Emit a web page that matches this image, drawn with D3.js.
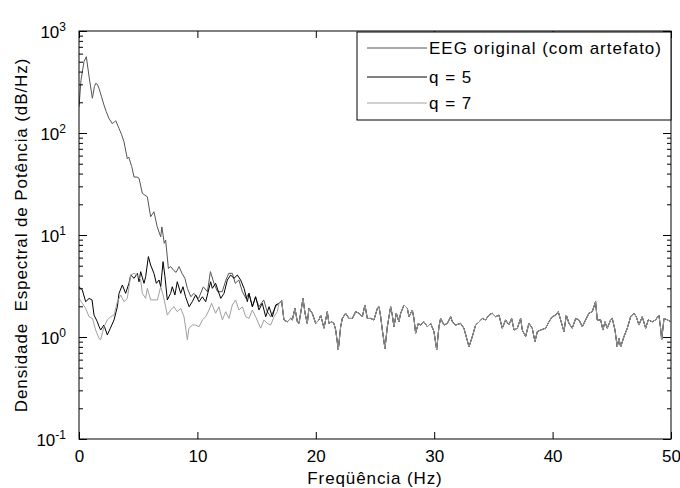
<!DOCTYPE html>
<html>
<head>
<meta charset="utf-8">
<script src="https://cdn.jsdelivr.net/npm/d3@7"></script>
<style>
  body { margin: 0; background: #fff; }
  svg { display: block; }
  text { font-family: "Liberation Sans", Arial, sans-serif; fill: #000; }
</style>
</head>
<body>
<div id="chart"></div>
<script>
// original EEG (with artefact), low-frequency part
let origF = [0, 0.17, 0.42, 0.62, 0.85, 1.13, 1.3, 1.41, 1.55, 1.69,
    1.9, 2.11, 2.3, 2.53, 2.8, 2.96, 3.1, 3.38, 3.6, 3.8,
    4.08, 4.2, 4.45, 4.65, 4.9, 5.07, 5.35, 5.77, 6.05, 6.33,
    6.6, 6.9, 7.0, 7.2, 7.32, 7.55, 7.75, 8.0, 8.2, 8.45,
    8.7, 8.95, 9.15, 9.45, 9.7, 10.1, 10.5, 10.85, 11.1, 11.4,
    11.7, 12.1, 12.4, 12.65, 12.95, 13.2, 13.5, 13.8, 14.1, 14.35,
    14.65, 14.9, 15.2, 15.6, 15.9, 16.2, 16.6];
let origV = [180, 330, 500, 560, 356, 219, 285, 307, 300, 274,
    227, 188, 162, 139, 124, 127, 132, 111, 96, 82,
    56, 58, 47, 37, 37, 36, 25.6, 23.7, 15.1, 16.9,
    12.1, 9.6, 12, 8.3, 8.9, 4.7, 4.9, 4.5, 4.3, 4.9,
    4.2, 3.76, 3.0, 2.48, 2.68, 2.39, 3.1, 2.78, 4.37, 3.36,
    2.78, 2.78, 3.6, 4.21, 4.21, 3.36, 3.62, 2.78, 2.39, 2.68,
    1.98, 2.48, 1.98, 2.31, 1.77, 1.58, 1.98];

// q = 5
let q5F = [0, 0.28, 0.56, 0.85, 1.1, 1.27, 1.55, 1.7, 1.83, 2.1,
    2.39, 2.65, 2.96, 3.24, 3.38, 3.66, 3.94, 4.22, 4.37, 4.65,
    4.93, 5.07, 5.21, 5.49, 5.63, 5.86, 6.05, 6.33, 6.53, 6.76,
    6.9, 7.1, 7.26, 7.46, 7.74, 7.88, 8.1, 8.3, 8.59, 8.78,
    9.0, 9.3, 9.57, 9.85, 10.14, 10.42, 10.7, 11.12, 11.26, 11.54,
    11.97, 12.25, 12.53, 12.81, 13.09, 13.37, 13.65, 13.94, 14.22, 14.36,
    14.64, 14.92, 15.2, 15.48, 15.77, 16.05, 16.33, 16.61];
let q5V = [3.11, 2.89, 2.22, 2.39, 2.31, 1.64, 1.41, 1.26, 1.17, 1.31,
    1.05, 1.22, 1.47, 1.98, 2.68, 3.23, 2.68, 3.36, 4.05, 3.76,
    4.21, 3.48, 4.37, 3.36, 3.9, 6.14, 5.08, 4.21, 3.36, 3.62,
    3.11, 5.48, 3.9, 2.31, 2.68, 3.11, 2.58, 3.48, 2.68, 3.11,
    2.48, 1.98, 2.22, 2.58, 2.22, 2.48, 2.22, 3.48, 3.0, 3.36,
    2.39, 2.68, 3.62, 4.05, 3.76, 4.05, 3.62, 3.0, 2.22, 2.68,
    1.98, 2.48, 1.84, 2.14, 1.58, 1.98, 1.58, 2.06];

// q = 7
let q7F = [0, 0.28, 0.56, 0.85, 1.13, 1.41, 1.69, 1.83, 2.11, 2.39,
    2.67, 2.96, 3.24, 3.52, 3.8, 4.08, 4.37, 4.65, 4.93, 5.21,
    5.35, 5.63, 5.77, 6.05, 6.33, 6.62, 6.9, 7.1, 7.32, 7.46,
    7.74, 8.02, 8.3, 8.59, 8.87, 9.15, 9.29, 9.57, 9.85, 10.14,
    10.42, 10.7, 10.98, 11.2, 11.54, 11.82, 12.11, 12.39, 12.67, 12.95,
    13.23, 13.51, 13.8, 14.08, 14.36, 14.64, 14.92, 15.34, 15.63, 15.91,
    16.19, 16.47, 16.75];
let q7V = [2.39, 2.14, 1.91, 1.58, 1.52, 1.17, 0.97, 0.94, 1.26, 1.47,
    1.58, 1.64, 2.22, 2.58, 2.22, 2.39, 4.05, 4.21, 4.05, 3.62,
    2.68, 2.39, 3.0, 2.31, 2.31, 2.31, 3.11, 2.58, 1.98, 1.64,
    1.84, 1.98, 1.77, 1.91, 1.58, 0.94, 1.22, 1.31, 1.31, 1.26,
    1.47, 1.58, 1.84, 2.14, 1.71, 1.98, 1.47, 1.77, 1.52, 2.06,
    2.31, 1.84, 1.98, 1.58, 1.52, 1.84, 1.58, 1.22, 1.47, 1.36,
    1.31, 1.58, 1.77];

// above ~17 Hz the three spectra coincide
let tailF = [16.89, 17.11, 17.31, 17.59, 17.88, 18.02, 18.24, 18.44, 18.58, 18.72,
    18.92, 19.09, 19.28, 19.42, 19.7, 19.99, 20.27, 20.41, 20.69, 20.97,
    21.11, 21.34, 21.53, 21.68, 21.9, 22.1, 22.24, 22.52, 22.8, 23.08,
    23.37, 23.65, 23.93, 24.15, 24.35, 24.63, 24.91, 25.2, 25.34, 25.48,
    25.62, 25.84, 26.04, 26.32, 26.46, 26.6, 26.8, 27.02, 27.17, 27.45,
    27.73, 27.87, 28.15, 28.29, 28.43, 28.66, 28.85, 29.14, 29.42, 29.7,
    29.98, 30.21, 30.4, 30.54, 30.83, 31.11, 31.39, 31.53, 31.81, 32.23,
    32.51, 32.94, 33.22, 33.5, 33.78, 34.06, 34.34, 34.62, 34.9, 35.19,
    35.47, 35.75, 36.03, 36.31, 36.54, 36.74, 37.02, 37.3, 37.44, 37.72,
    38.0, 38.28, 38.51, 38.71, 38.99, 39.41, 39.69, 39.97, 40.26, 40.48,
    40.68, 40.96, 41.16, 41.38, 41.66, 41.95, 42.23, 42.51, 42.79, 43.07,
    43.35, 43.63, 43.77, 44.06, 44.25, 44.42, 44.62, 44.9, 45.04, 45.27,
    45.46, 45.6, 45.75, 46.03, 46.31, 46.59, 46.87, 47.07, 47.29, 47.57,
    47.86, 48.08, 48.42, 48.7, 48.98, 49.12, 49.21, 49.41, 49.7, 50];
let tailV = [2.14, 2.27, 1.47, 1.41, 1.52, 1.47, 1.91, 1.41, 1.36, 1.71,
    2.39, 1.71, 1.36, 1.91, 1.71, 1.36, 1.47, 1.64, 1.22, 1.77,
    1.36, 1.41, 1.36, 1.17, 0.75, 1.26, 1.52, 1.71, 1.52, 1.52,
    1.77, 1.71, 1.58, 2.06, 1.52, 1.52, 1.47, 1.91, 1.98, 1.58,
    1.17, 0.77, 1.26, 1.98, 1.64, 1.26, 1.71, 1.41, 1.71, 2.06,
    1.91, 1.58, 1.84, 1.52, 1.09, 1.36, 1.31, 1.41, 1.26, 1.36,
    1.13, 0.75, 1.26, 1.52, 1.31, 1.36, 1.58, 1.41, 1.31, 1.36,
    1.22, 0.80, 1.01, 1.31, 1.4, 1.52, 1.47, 1.64, 1.71, 1.58,
    1.64, 1.22, 1.47, 1.31, 1.52, 1.17, 1.22, 1.52, 1.17, 1.01,
    1.36, 1.22, 0.90, 1.13, 1.17, 1.22, 1.41, 1.58, 1.64, 1.77,
    1.47, 1.13, 1.64, 1.36, 1.22, 1.52, 1.47, 1.26, 1.47, 1.71,
    1.77, 2.22, 1.47, 1.47, 1.17, 1.41, 1.22, 1.47, 1.52, 1.17,
    0.80, 0.97, 0.80, 1.01, 1.22, 1.58, 1.71, 1.58, 1.31, 1.58,
    1.22, 1.47, 1.41, 1.47, 1.64, 1.22, 0.94, 1.52, 1.47, 1.41];

let seriesNames = ["EEG original (com artefato)", "q = 5", "q = 7"];
let seriesColors = ["#555555", "#000000", "#a0a0a0"];
let xTicks = [0, 10, 20, 30, 40, 50];
let yDecades = [-1, 0, 1, 2, 3];

let W = 680, H = 488;
let margin = {top: 31, right: 9, bottom: 49, left: 79};
let x0 = margin.left, x1 = W - margin.right, y0 = H - margin.bottom, y1 = margin.top;

let svg = d3.select("#chart").append("svg").attr("width", W).attr("height", H);

let x = d3.scaleLinear().domain([0, 50]).range([x0, x1]);
let y = d3.scaleLog().domain([0.1, 1000]).range([y0, y1]);

// build point lists: low part + common tail
function pts(F, V) {
    let a = F.map(function (f, i) { return [f, V[i]]; });
    return a.concat(tailF.map(function (f, i) { return [f, tailV[i]]; }));
}
let data = [pts(origF, origV), pts(q5F, q5V), pts(q7F, q7V)];

let line = d3.line()
    .x(function (d) { return x(d[0]); })
    .y(function (d) { return y(d[1]); });

svg.append("defs").append("clipPath").attr("id", "clip")
    .append("rect").attr("x", x0).attr("y", y1).attr("width", x1 - x0).attr("height", y0 - y1);

let plot = svg.append("g").attr("clip-path", "url(#clip)");
data.forEach(function (d, i) {
    plot.append("path")
        .datum(d)
        .attr("d", line)
        .attr("fill", "none")
        .attr("stroke", seriesColors[i])
        .attr("stroke-width", 1);
});

// minor ticks of the log axis
let minors = [];
yDecades.slice(0, -1).forEach(function (e) {
    for (let k = 2; k < 10; k++) minors.push(k * Math.pow(10, e));
});
let majors = yDecades.map(function (e) { return Math.pow(10, e); });

function styleAxis(g) {
    g.select(".domain").remove();
    g.selectAll("line").attr("stroke", "#000");
    g.selectAll("text").attr("font-size", 17).attr("font-family", "Liberation Sans, Arial, sans-serif");
}

// x axes (ticks inside)
svg.append("g").attr("transform", "translate(0," + y0 + ")")
    .call(d3.axisBottom(x).tickValues(xTicks).tickSizeInner(-7).tickSizeOuter(0).tickPadding(11))
    .call(styleAxis);
svg.append("g").attr("transform", "translate(0," + y1 + ")")
    .call(d3.axisTop(x).tickValues(xTicks).tickSizeInner(-7).tickSizeOuter(0).tickFormat(""))
    .call(styleAxis);

// y axes
let yl = svg.append("g").attr("transform", "translate(" + x0 + ",0)")
    .call(d3.axisLeft(y).tickValues(majors).tickSizeInner(-8).tickSizeOuter(0).tickPadding(20)
        .tickFormat(function () { return ""; }))
    .call(styleAxis);
svg.append("g").attr("transform", "translate(" + x0 + ",0)")
    .call(d3.axisLeft(y).tickValues(minors).tickSizeInner(-4).tickSizeOuter(0).tickFormat(""))
    .call(styleAxis);
svg.append("g").attr("transform", "translate(" + x1 + ",0)")
    .call(d3.axisRight(y).tickValues(majors).tickSizeInner(-8).tickSizeOuter(0).tickFormat(""))
    .call(styleAxis);
svg.append("g").attr("transform", "translate(" + x1 + ",0)")
    .call(d3.axisRight(y).tickValues(minors).tickSizeInner(-4).tickSizeOuter(0).tickFormat(""))
    .call(styleAxis);

// y tick labels as 10^n
yl.selectAll(".tick text").each(function (d, i) {
    let t = d3.select(this).attr("x", -13).attr("dy", "0.36em").attr("text-anchor", "end");
    t.append("tspan").text("10");
    t.append("tspan").attr("dy", "-0.55em").attr("font-size", 12).text(yDecades[i]);
});

// frame
svg.append("rect")
    .attr("x", x0).attr("y", y1).attr("width", x1 - x0).attr("height", y0 - y1)
    .attr("fill", "none").attr("stroke", "#000").attr("stroke-width", 1);

// axis titles
svg.append("text")
    .attr("x", (x0 + x1) / 2).attr("y", 484)
    .attr("text-anchor", "middle")
    .attr("font-size", 17)
    .style("letter-spacing", "0.9px")
    .text("Freqüência (Hz)");

svg.append("text")
    .attr("transform", "translate(27," + ((y0 + y1) / 2) + ") rotate(-90)")
    .attr("text-anchor", "middle")
    .attr("font-size", 17)
    .style("letter-spacing", "0.9px")
    .style("white-space", "pre")
    .text("Densidade  Espectral de Potência (dB/Hz)");

// legend
let lg = svg.append("g");
lg.append("rect")
    .attr("x", 357).attr("y", 32).attr("width", x1 - 357).attr("height", 88)
    .attr("fill", "#fff").attr("stroke", "#000").attr("stroke-width", 1);
let rowY = [48, 77, 103];
seriesNames.forEach(function (name, i) {
    lg.append("line")
        .attr("x1", 367).attr("x2", 427)
        .attr("y1", rowY[i]).attr("y2", rowY[i])
        .attr("stroke", seriesColors[i]).attr("stroke-width", 1);
    lg.append("text")
        .attr("x", 429).attr("y", rowY[i] + 6)
        .attr("font-size", 17)
        .style("letter-spacing", "1px")
        .text(name);
});
</script>
</body>
</html>
